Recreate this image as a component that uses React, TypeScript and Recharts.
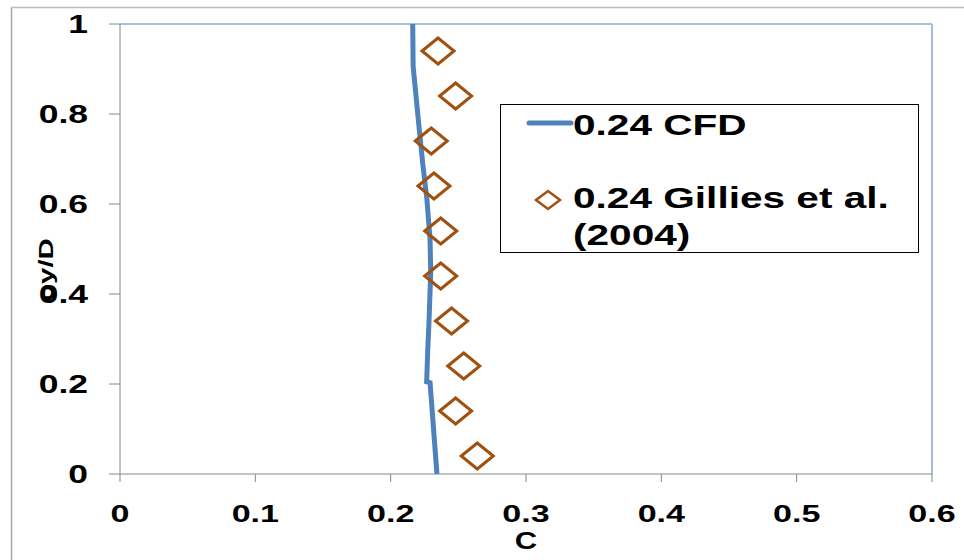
import React from "react"
import { ScatterChart, Scatter, XAxis, YAxis, ReferenceLine } from "recharts"

// CFD profile (C against y/D)
const cfdC = [0.2163, 0.2166, 0.2209, 0.2239, 0.2268, 0.2291, 0.2296, 0.2283, 0.2274, 0.2266, 0.2291, 0.2342]
const cfdY = [1.0, 0.906, 0.773, 0.684, 0.61, 0.521, 0.448, 0.336, 0.276, 0.205, 0.203, 0.0]

// Gillies et al. (2004) measurements
const gilliesC = [0.235, 0.248, 0.23, 0.232, 0.237, 0.237, 0.245, 0.254, 0.248, 0.264]
const gilliesY = [0.94, 0.84, 0.74, 0.64, 0.54, 0.44, 0.34, 0.24, 0.14, 0.04]

const xTicks = [0, 0.1, 0.2, 0.3, 0.4, 0.5, 0.6]
const yTicks = [0, 0.2, 0.4, 0.6, 0.8, 1]

const cfdData = cfdC.map((c, i) => ({ c, y: cfdY[i] }))
const gilliesData = gilliesC.map((c, i) => ({ c, y: gilliesY[i] }))

const FONT = '"Liberation Sans", Arial, sans-serif'
const BLUE = "#4F81BD"
const BROWN = "#A0500F"
const AXIS = "#868686"

// tick labels are drawn wide, like the original
const YTick = (props: any) => {
  const { y, payload } = props
  return (
    <text
      transform={`translate(88, ${y + 9}) scale(1.42, 1)`}
      textAnchor="end"
      fontFamily={FONT}
      fontWeight="bold"
      fontSize={25}
      fill="#000"
    >
      {payload.value}
    </text>
  )
}

const XTick = (props: any) => {
  const { x, payload } = props
  return (
    <text
      transform={`translate(${x}, 522) scale(1.42, 1)`}
      textAnchor="middle"
      fontFamily={FONT}
      fontWeight="bold"
      fontSize={24}
      fill="#000"
    >
      {payload.value}
    </text>
  )
}

const Diamond = (props: any) => {
  const { cx, cy } = props
  if (cx == null || cy == null) return <g />
  const w = 16
  const h = 13
  return (
    <polygon
      points={`${cx - w},${cy} ${cx},${cy - h} ${cx + w},${cy} ${cx},${cy + h}`}
      fill="none"
      stroke={BROWN}
      strokeWidth={3}
    />
  )
}

const NoDot = () => <g />

export default function App() {
  return (
    <div style={{ position: "absolute", left: 0, top: 0, width: 964, height: 560, background: "#fff" }}>
      <ScatterChart width={964} height={560} margin={{ top: 24, right: 32, bottom: 0, left: 0 }}>
        <XAxis
          type="number"
          dataKey="c"
          domain={[0, 0.6]}
          ticks={xTicks}
          tickSize={8}
          tick={<XTick />}
          height={86}
          axisLine={{ stroke: AXIS }}
          tickLine={{ stroke: AXIS }}
        />
        <YAxis
          type="number"
          dataKey="y"
          domain={[0, 1]}
          ticks={yTicks}
          tickSize={11}
          tick={<YTick />}
          width={120}
          axisLine={{ stroke: AXIS }}
          tickLine={{ stroke: AXIS }}
        />
        <ReferenceLine y={1} stroke={BLUE} strokeWidth={1.2} />
        <ReferenceLine x={0.6} stroke="#a3bde0" strokeWidth={2} />
        <Scatter
          name="0.24 CFD"
          data={cfdData}
          line={{ stroke: BLUE, strokeWidth: 5 }}
          lineJointType="linear"
          shape={<NoDot />}
          isAnimationActive={false}
        />
        <Scatter
          name="0.24 Gillies et al. (2004)"
          data={gilliesData}
          shape={<Diamond />}
          isAnimationActive={false}
        />
      </ScatterChart>

      <svg
        width={964}
        height={560}
        style={{ position: "absolute", left: 0, top: 0, pointerEvents: "none" }}
        fontFamily={FONT}
        fontWeight="bold"
      >
        {/* chart area frame */}
        <line x1={11.5} y1={7} x2={11.5} y2={560} stroke="#a6a6a6" strokeWidth={1.5} />
        <line x1={11} y1={7.5} x2={964} y2={7.5} stroke="#bdbdbd" strokeWidth={1.5} />

        {/* axis titles */}
        <text transform="translate(53, 270) rotate(-90) scale(1.4, 1)" textAnchor="middle" fontSize={21}>
          oy/D
        </text>
        <text transform="translate(526, 549) scale(1.35, 1)" textAnchor="middle" fontSize={23}>
          C
        </text>

        {/* legend */}
        <rect x={500.5} y={104.5} width={418} height={148} fill="#fff" stroke="#000" strokeWidth={1} />
        <line x1={529} y1={123} x2={571} y2={123} stroke={BLUE} strokeWidth={5} strokeLinecap="round" />
        <text transform="translate(573, 135) scale(1.4, 1)" fontSize={29}>
          0.24 CFD
        </text>
        <polygon points="536,200 548,191 560,200 548,209" fill="none" stroke={BROWN} strokeWidth={2.5} />
        <text transform="translate(573, 208) scale(1.4, 1)" fontSize={29}>
          0.24 Gillies et al.
        </text>
        <text transform="translate(573, 245) scale(1.4, 1)" fontSize={29}>
          (2004)
        </text>
      </svg>
    </div>
  )
}
